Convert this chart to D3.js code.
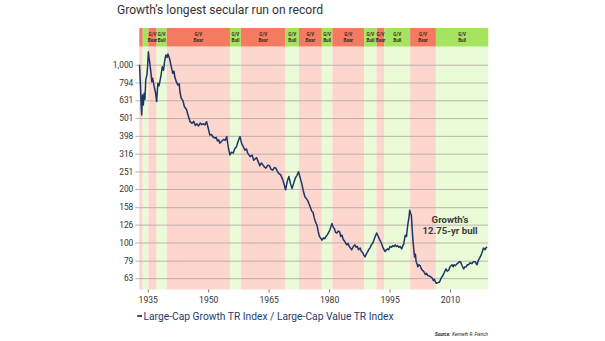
<!DOCTYPE html>
<html><head><meta charset="utf-8">
<script src="https://cdn.jsdelivr.net/npm/d3@7"></script>
<style>body{margin:0;background:#fff}svg{display:block}</style>
</head><body><svg id="c" width="605" height="341"></svg>
<script>
// Growth / Value ratio
const years = [1932.95,1933.2,1933.4,1933.5,1933.6,1933.7,1933.8,1933.9,1934.1,1934.3,1934.5,1934.8,1935.0,1935.15,1935.3,1935.5,1935.8,1936.0,1936.2,1936.6,1936.9,1937.2,1937.5,1937.8,1938.3,1938.6,1938.9,1939.2,1939.5,1939.8,1940.0,1940.4,1940.9,1941.2,1941.5,1941.7,1942.1,1942.5,1942.8,1943.0,1943.3,1943.7,1944.1,1944.6,1945.0,1945.5,1946.0,1946.4,1946.8,1947.2,1947.6,1948.0,1948.4,1948.8,1949.2,1949.6,1950.0,1950.4,1950.8,1951.2,1951.7,1952.0,1952.3,1952.6,1952.9,1953.4,1953.8,1954.2,1954.6,1955.0,1955.4,1955.8,1956.2,1956.6,1957.0,1957.4,1957.9,1958.3,1958.6,1959.1,1959.5,1959.8,1960.4,1960.9,1961.3,1961.7,1962.0,1962.4,1962.8,1963.2,1963.5,1964.0,1964.3,1964.8,1965.2,1965.6,1966.0,1966.4,1966.8,1967.2,1967.5,1968.0,1968.5,1968.9,1969.2,1969.6,1970.0,1970.4,1970.8,1971.2,1971.6,1972.0,1972.4,1972.8,1973.2,1973.6,1974.0,1974.4,1974.7,1975.0,1975.3,1975.7,1976.0,1976.3,1976.5,1976.8,1977.0,1977.3,1977.6,1977.9,1978.2,1978.6,1978.9,1979.2,1979.5,1979.9,1980.2,1980.5,1980.7,1981.0,1981.3,1981.6,1981.9,1982.3,1982.6,1982.9,1983.2,1983.5,1983.8,1984.1,1984.4,1984.7,1985.0,1985.3,1985.6,1986.0,1986.4,1986.7,1987.0,1987.3,1987.7,1988.0,1988.3,1988.6,1988.9,1989.2,1989.5,1989.8,1990.1,1990.5,1990.9,1991.3,1991.8,1992.2,1992.6,1992.9,1993.2,1993.5,1993.9,1994.2,1994.5,1994.8,1995.1,1995.5,1995.8,1996.1,1996.4,1996.7,1997.0,1997.3,1997.6,1998.0,1998.3,1998.5,1998.7,1998.9,1999.2,1999.5,1999.8,2000.0,2000.2,2000.4,2000.6,2000.8,2001.0,2001.2,2001.4,2001.6,2001.8,2002.0,2002.3,2002.6,2002.9,2003.1,2003.4,2003.6,2003.9,2004.2,2004.5,2004.8,2005.2,2005.6,2005.9,2006.1,2006.4,2006.6,2007.0,2007.4,2007.8,2008.2,2008.6,2009.0,2009.3,2009.7,2010.0,2010.5,2010.8,2011.0,2011.3,2011.5,2011.8,2012.1,2012.4,2012.6,2013.0,2013.4,2013.7,2014.0,2014.3,2014.6,2015.0,2015.4,2015.8,2016.3,2016.5,2016.7,2017.0,2017.5,2017.9,2018.3,2018.7,2019.0,2019.2];
const ratio = [1000,760,560,521,600,675,620,594,690,640,820,880,1010,1183,1100,1020,900,802,840,752,700,620,786,760,875,974,930,1050,1134,1100,1148,1085,960,894,920,855,800,768,780,700,647,630,580,560,520,478,468,480,455,465,452,470,460,466,458,478,440,402,405,392,386,390,372,378,362,372,380,375,394,340,311,322,318,338,345,370,394,360,350,331,336,318,304,310,290,296,300,285,270,280,275,265,262,272,270,258,255,264,262,250,245,240,225,210,198,220,235,215,201,215,230,238,250,232,215,195,181,176,172,165,159,150,148,138,133,128,125,115,108,106,103,106,105,108,110,114,118,124,128,122,120,114,113,116,115,108,110,104,102,99,97,99,95,93,91,95,97,94,95,91,93,89,88,85,83,86,88,91,93,97,100,106,113,108,103,100,96,92,89,91,92,91,95,94,96,95,97,95,96,94,95,92,96,98,104,110,108,125,138,152,146,143,120,103,92,83,86,78,76,73,75,74,71,70,69,68,66,67,65,65,64,63,61,62,60,59,59.5,60,63,65,68,71,69,70,73,75,73,75,74,75,76,77,78,78,74,71,73,73,75,75,77,76,78,78,76,75,79,83,87,93,91,94,93];

const bandStarts = [1932.9,1933.75,1935.15,1937.2,1939.7,1955.4,1958.1,1969.2,1972.5,1978.2,1980.8,1988.7,1991.8,1993.7,2000.1,2006.5];
const bandEnds   = [1933.75,1935.15,1937.2,1939.7,1955.4,1958.1,1969.2,1972.5,1978.2,1980.8,1988.7,1991.8,1993.7,2000.1,2006.5,2019.5];
const bandTypes  = ["Bear","Bull","Bear","Bull","Bear","Bull","Bear","Bull","Bear","Bull","Bear","Bull","Bear","Bull","Bear","Bull"];
const bandLabeled = [false,false,true,true,true,true,true,true,true,true,true,true,true,true,true,true];

const yTickValues = [63,79,100,126,158,200,251,316,398,501,631,794,1000];
const yTickLabels = ["63","79","100","126","158","200","251","316","398","501","631","794","1,000"];
const xTickValues = [1935,1950,1965,1980,1995,2010];

const svg = d3.select("#c");
const L = 139.3, R = 488.3, T = 46.5, B = 289.5, bandTop = 28;
const x = d3.scaleLinear().domain([1932.9, 2019.5]).range([L, R]);
const y = d3.scaleLog().domain([54.4, 1266]).range([B, T]);
const FONT = "Roboto, 'Open Sans', sans-serif";

const bands = bandStarts.map((s,i)=>({s, e: bandEnds[i], t: bandTypes[i], lab: bandLabeled[i]}));
// plot backgrounds
svg.append("g").selectAll("rect").data(bands).join("rect")
  .attr("x", d=>x(d.s)).attr("width", d=>x(d.e)-x(d.s))
  .attr("y", T).attr("height", B-T)
  .attr("fill", d=>d.t==="Bear" ? "#fdd6ce" : "#eafcd7");
// top band
svg.append("g").selectAll("rect").data(bands).join("rect")
  .attr("x", d=>x(d.s)).attr("width", d=>x(d.e)-x(d.s))
  .attr("y", bandTop).attr("height", T-bandTop)
  .attr("fill", d=>d.t==="Bear" ? "#f47a61" : "#a5e460");
const bl = svg.append("g").selectAll("g").data(bands.filter(d=>d.lab)).join("g")
  .attr("transform", d=>`translate(${(x(d.s)+x(d.e))/2},0)`);
bl.append("text").attr("y", 35.5).attr("text-anchor","middle").attr("font-family",FONT)
  .attr("font-size",4.6).attr("font-weight","bold").attr("fill","#3a2a20").text("G/V");
bl.append("text").attr("y", 41.5).attr("text-anchor","middle").attr("font-family",FONT)
  .attr("font-size",4.6).attr("font-weight","bold").attr("fill","#3a2a20").text(d=>d.t);

// gridlines + y labels
const yAxis = d3.axisLeft(y).tickValues(yTickValues).tickFormat((d,i)=>yTickLabels[i])
  .tickSize(-(R-L)-4).tickPadding(2);
const gy = svg.append("g").attr("transform", `translate(${L-4},0)`).call(yAxis);
gy.select(".domain").remove();
gy.selectAll(".tick line").attr("stroke","#b8aaa6").attr("stroke-width",0.9).attr("x1",0).attr("x2",R-L+4);
gy.selectAll(".tick text").attr("font-family",FONT).attr("font-size",8.4).attr("fill","#333").attr("x",-2);

// x axis
const xAxis = d3.axisBottom(x).tickValues(xTickValues).tickFormat(d3.format("d")).tickSize(3).tickPadding(4);
const gx = svg.append("g").attr("transform", `translate(0,${B})`).call(xAxis);
gx.select(".domain").remove();
gx.selectAll(".tick line").attr("stroke","#777");
gx.selectAll(".tick text").attr("font-family",FONT).attr("font-size",8.6).attr("fill","#333");

// line
const line = d3.line().x((d,i)=>x(years[i])).y(d=>y(d)).curve(d3.curveLinear);
svg.append("path").datum(ratio).attr("d", line).attr("fill","none")
  .attr("stroke","#1b3768").attr("stroke-width",1.5).attr("stroke-linejoin","round");

// annotation
svg.append("text").attr("x",450).attr("y",223.3).attr("text-anchor","middle").attr("font-family",FONT)
  .attr("font-size",9.6).attr("font-weight","bold").attr("fill","#3b3b3b").text("Growth\u2019s");
svg.append("text").attr("x",450).attr("y",234.3).attr("text-anchor","middle").attr("font-family",FONT)
  .attr("font-size",9.6).attr("font-weight","bold").attr("fill","#3b3b3b").text("12.75-yr bull");

// title
svg.append("text").attr("x",117).attr("y",14).attr("font-family",FONT).attr("font-size",13.5)
  .attr("fill","#333").attr("textLength",206).attr("lengthAdjust","spacingAndGlyphs")
  .text("Growth\u2019s longest secular run on record");

// legend
svg.append("line").attr("x1",137.3).attr("x2",142).attr("y1",316).attr("y2",316)
  .attr("stroke","#1b3768").attr("stroke-width",1.8);
svg.append("text").attr("x",143.5).attr("y",319.5).attr("font-family",FONT).attr("font-size",11)
  .attr("fill","#1f3a6e").attr("textLength",250).attr("lengthAdjust","spacingAndGlyphs")
  .text("Large-Cap Growth TR Index / Large-Cap Value TR Index");

// source
svg.append("text").attr("x",435).attr("y",336).attr("font-family",FONT).attr("font-size",4.6)
  .attr("fill","#222").attr("font-weight","bold").attr("font-style","italic").text("Source:");
svg.append("text").attr("x",452).attr("y",336).attr("font-family",FONT).attr("font-size",4.6)
  .attr("fill","#222").attr("font-style","italic").text("Kenneth R. French");
</script></body></html>
